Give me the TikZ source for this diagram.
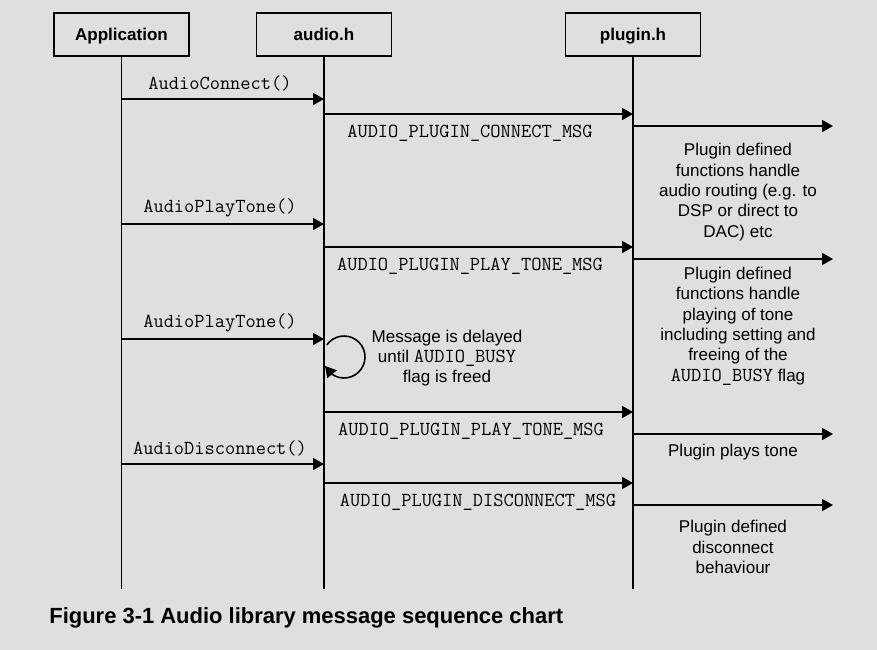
\documentclass[tikz,border=0pt]{standalone}
\usepackage{fontspec}
\setmainfont{Liberation Sans}
\usetikzlibrary{arrows.meta,bending}

\definecolor{bggray}{RGB}{223,223,223}

\tikzset{
  lifebox/.style={draw, line width=0.9pt, minimum width=2.7cm, minimum height=0.86cm,
    text height=0.72em, text depth=0pt, font=\fontsize{9.7}{11.6}\selectfont\bfseries},
  msg/.style={line width=0.9pt, -{Triangle[length=0.22cm,width=0.24cm]}},
  msgtext/.style={font=\fontsize{11.3}{12}\selectfont\ttfamily, inner sep=0pt},
  note/.style={align=center, font=\fontsize{9.7}{11.6}\selectfont, inner sep=0pt}
}

\newcommand{\busyflag}{{\fontsize{11.3}{11.6}\selectfont\ttfamily AUDIO\_BUSY}}

\begin{document}
\begin{tikzpicture}[x=0.02cm, y=0.02cm]

% Background
\fill[bggray] (0,0) rectangle (877,-650);

% Heads of the lifelines
\node[lifebox] (app) at (121.5,-34.5) {Application};
\node[lifebox] (aud) at (324,-34.5) {audio.h};
\node[lifebox] (plg) at (633,-34.5) {plugin.h};

% Lifelines
\coordinate (bottom) at (0,-589);
\foreach \n in {app,aud,plg} \draw[line width=0.9pt] (\n.south) -- (\n |- bottom);

% Calls from the application into audio.h
\foreach \y/\txt [count=\i] in {99/AudioConnect(), 224/AudioPlayTone(), 339/AudioPlayTone(), 464/AudioDisconnect()} {
  \coordinate (call\i) at (0,-\y);
  \draw[msg] (app |- call\i) -- (aud |- call\i);
  \node[msgtext] (callname\i) at (220,-\y+16) {\txt};
}

% Messages from audio.h to plugin.h
\foreach \y/\x/\txt [count=\i] in {114/470/CONNECT, 247/470/PLAY\_TONE, 412/471/PLAY\_TONE, 483/478/DISCONNECT} {
  \coordinate (send\i) at (0,-\y);
  \draw[msg] (aud |- send\i) -- (plg |- send\i);
  \node[msgtext] (sendname\i) at (\x,-\y-19) {AUDIO\_PLUGIN\_\txt\_MSG};
}

% What the plugin does
\coordinate (edge) at (833,0);
\foreach \y [count=\i] in {126,259,434,505} {
  \coordinate (act\i) at (0,-\y);
  \draw[msg] (plg |- act\i) -- (edge |- act\i);
}

\node[note] (route) at (738,-192) {Plugin defined\\functions handle\\audio routing (e.g. to\\DSP or direct to\\DAC) etc};
\node[note] (tone) at (738,-326) {Plugin defined\\functions handle\\playing of tone\\including setting and\\freeing of the\\\busyflag{} flag};
\node[note] (plays) at (733,-452) {Plugin plays tone};
\node[note] (discon) at (733,-547) {Plugin defined\\disconnect\\behaviour};

% Delay loop on audio.h
\coordinate (loopc) at (344,-357);
\draw[msg] (loopc) ++(145:21) arc[start angle=145, end angle=-155, radius=21];
\node[note] (delay) at (447,-358) {Message is delayed\\until \busyflag\\flag is freed};

% Caption
\node[anchor=west, inner sep=0pt, font=\fontsize{12.5}{15}\selectfont\bfseries] (caption) at (49,-618)
  {Figure 3-1 Audio library message sequence chart};

\end{tikzpicture}
\end{document}
